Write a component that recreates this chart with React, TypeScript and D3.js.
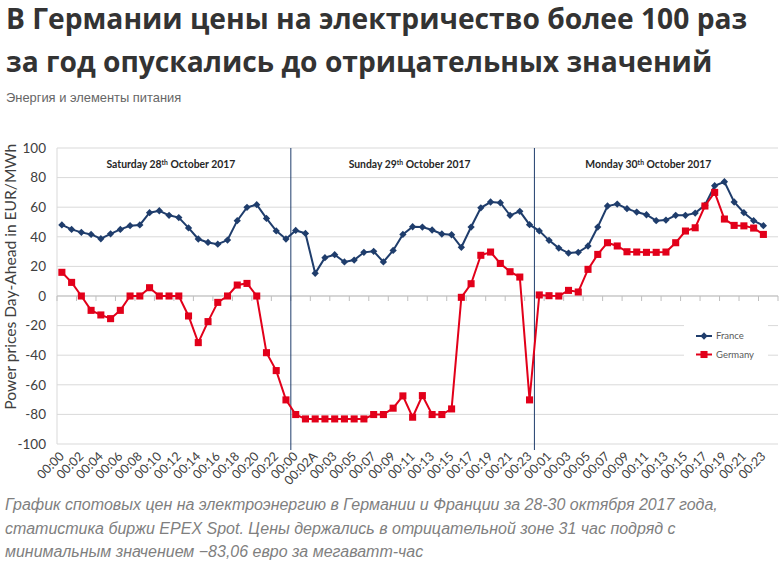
import React from 'react';
import * as d3 from 'd3';

// hourly slots, Sat 28 – Mon 30 Oct 2017 (Sunday has the extra DST hour)
const categories = [
  '00:00', '00:01', '00:02', '00:03', '00:04', '00:05', '00:06', '00:07', '00:08', '00:09', '00:10', '00:11',
  '00:12', '00:13', '00:14', '00:15', '00:16', '00:17', '00:18', '00:19', '00:20', '00:21', '00:22', '00:23',
  '00:00', '00:01', '00:02A', '00:02B', '00:03', '00:04', '00:05', '00:06', '00:07', '00:08', '00:09', '00:10',
  '00:11', '00:12', '00:13', '00:14', '00:15', '00:16', '00:17', '00:18', '00:19', '00:20', '00:21', '00:22', '00:23',
  '00:00', '00:01', '00:02', '00:03', '00:04', '00:05', '00:06', '00:07', '00:08', '00:09', '00:10', '00:11',
  '00:12', '00:13', '00:14', '00:15', '00:16', '00:17', '00:18', '00:19', '00:20', '00:21', '00:22', '00:23',
];

const france = [
  48, 45, 43, 41.6, 38.7, 42, 45, 47.5, 48, 56.3, 57.6, 54.5, 53, 46, 38.5, 36.2, 35, 37.8, 50.9, 59.9, 61.7, 52.4, 44, 38.5,
  44.3, 42.3, 15.3, 25.9, 27.9, 23, 24.3, 29.5, 30.2, 23, 30.8, 41.6, 46.8, 46.6, 44.6, 41.9, 41.4, 32.9, 46.6, 59.6, 63.5, 63, 54.5, 57.2, 48.2,
  44, 37.6, 32.4, 29, 29.5, 33.8, 46.6, 60.8, 62.1, 59, 56.7, 54.9, 50.9, 51.3, 54.5, 54.5, 56, 61.4, 74.5, 77.2, 63.5, 56.3, 50.9, 47.5,
];

const germany = [
  16, 9.2, 0, -9.7, -12.8, -15.3, -9.7, 0, 0, 5.6, 0, 0, 0, -13.5, -31.5, -17.3, -4.3, 0, 7.4, 8.5, 0, -38.3, -50.4, -70.2,
  -80.1, -83.06, -83.06, -83.06, -83.06, -83.06, -83.06, -83.06, -80.1, -80.1, -75.8, -67.5, -81.9, -67.3, -80.1, -80.1, -76.3,
  -0.9, 8.3, 27.5, 29.7, 22, 16.4, 12.8, -70.2,
  0.7, 0.2, 0, 3.8, 2.7, 18, 28.1, 36, 33.8, 29.9, 29.7, 29.5, 29.5, 29.7, 36, 43.9, 46.1, 60.8, 70, 52, 47.7, 47.4, 45.9, 41.6,
];

const yTicks = [100, 80, 60, 40, 20, 0, -20, -40, -60, -80, -100];

// first slot of each day
const days = [
  { start: 0, day: 'Saturday', num: '28' },
  { start: 24, day: 'Sunday', num: '29' },
  { start: 49, day: 'Monday', num: '30' },
];

const series = [
  { name: 'France', values: france, color: '#1F3D6C', marker: 'diamond' },
  { name: 'Germany', values: germany, color: '#E2001A', marker: 'square' },
];

const titleLines = [
  'В Германии цены на электричество более 100 раз',
  'за год опускались до отрицательных значений',
];
const subtitle = 'Энергия и элементы питания';
const captionLines = [
  'График спотовых цен на электроэнергию в Германии и Франции за 28-30 октября 2017 года,',
  'статистика биржи EPEX Spot. Цены держались в отрицательной зоне 31 час подряд с',
  'минимальным значением −83,06 евро за мегаватт-час',
];

const W = 781;
const H = 568;
const plot = { left: 57, right: 778, top: 148, bottom: 444 };
const chartFont = 'Lato, "Liberation Sans", sans-serif';

export default function App() {
  // one empty slot at the end, like the Excel original
  const x = d3.scaleBand<number>()
    .domain(d3.range(categories.length + 1))
    .range([plot.left, plot.right]);
  const step = x.step();
  const cx = (i: number) => (x(i) as number) + step / 2;
  const y = d3.scaleLinear().domain([-100, 100]).range([plot.bottom, plot.top]);

  const line = d3.line<number>().x((_, i) => cx(i)).y(d => y(d));
  const diamond = d3.symbol().type(d3.symbolDiamond2).size(34)();
  const square = d3.symbol().type(d3.symbolSquare).size(50)();

  const tickBounds = d3.range(0, categories.length + 2, 2);

  return (
    <svg width={W} height={H} style={{ position: 'absolute', left: 0, top: 0, background: '#fff' }}>
      {/* headline */}
      {titleLines.map((t, i) => (
        <text key={i} x={6} y={28.5 + i * 43.5} fontFamily='"Open Sans", sans-serif' fontWeight={700}
          fontSize={28.2} fill="#333">{t}</text>
      ))}
      <text x={6} y={102} fontFamily='"Liberation Sans", Arial, sans-serif' fontSize={12.9} fill="#666">{subtitle}</text>

      {/* grid */}
      {yTicks.map(t => (
        <line key={t} x1={plot.left} x2={plot.right} y1={y(t)} y2={y(t)} stroke="#D9D9D9" strokeWidth={1} />
      ))}
      <line x1={plot.left} x2={plot.left} y1={plot.top} y2={plot.bottom} stroke="#D9D9D9" />
      <line x1={plot.left} x2={plot.right} y1={y(0)} y2={y(0)} stroke="#BFBFBF" />
      {tickBounds.map(k => {
        const px = plot.left + k * step;
        return <line key={k} x1={px} x2={px} y1={y(0)} y2={y(0) + 5} stroke="#BFBFBF" />;
      })}

      {/* y axis */}
      {yTicks.map(t => (
        <text key={t} x={46} y={y(t)} dy="0.35em" textAnchor="end" fontFamily={chartFont}
          fontSize={13.5} fill="#404040">{t}</text>
      ))}
      <text transform={`translate(16,${y(13)}) rotate(-90)`} textAnchor="middle" fontFamily={chartFont}
        fontSize={15.6} fill="#404040">Power prices Day-Ahead in EUR/MWh</text>

      {/* day separators and headers */}
      {days.slice(1).map(d => (
        <line key={d.day} x1={x(d.start)} x2={x(d.start)} y1={plot.top} y2={plot.bottom + 6}
          stroke="#1F3D6C" strokeWidth={1} />
      ))}
      {days.map((d, i) => {
        const end = i < days.length - 1 ? days[i + 1].start : categories.length;
        const mid = (cx(d.start) + cx(end - 1)) / 2;
        return (
          <text key={d.day} x={mid - 3} y={168} textAnchor="middle" fontFamily={chartFont} fontWeight={700}
            fontSize={10.4} fill="#262626">
            {d.day} {d.num}<tspan fontSize={6.8} dy={-3.5}>th</tspan><tspan dy={3.5}> October 2017</tspan>
          </text>
        );
      })}

      {/* x labels */}
      {categories.map((c, i) => i % 2 === 0 ? (
        <text key={i} transform={`translate(${cx(i) + 3},${plot.bottom + 13}) rotate(-45)`} textAnchor="end"
          fontFamily={chartFont} fontSize={12.5} fill="#404040">{c}</text>
      ) : null)}

      {/* series */}
      {series.map(s => (
        <g key={s.name}>
          <path d={line(s.values) ?? ''} fill="none" stroke={s.color} strokeWidth={2} />
          {s.values.map((v, i) => (
            <path key={i} d={s.marker === 'diamond' ? diamond : square} transform={`translate(${cx(i)},${y(v)})`}
              fill={s.color} />
          ))}
        </g>
      ))}

      {/* legend */}
      <rect x={684} y={325} width={84} height={40} fill="#fff" />
      {series.map((s, i) => {
        const ly = 336 + i * 18.5;
        return (
          <g key={s.name} transform={`translate(696,${ly})`}>
            <line x1={0} x2={16} y1={0} y2={0} stroke={s.color} strokeWidth={2} />
            <path d={s.marker === 'diamond' ? diamond : square} transform="translate(8,0)" fill={s.color} />
            <text x={20} dy="0.35em" fontFamily={chartFont} fontSize={9.5} fill="#595959">{s.name}</text>
          </g>
        );
      })}

      {/* caption */}
      {captionLines.map((t, i) => (
        <text key={i} x={5} y={510 + i * 23.5} fontFamily='"Liberation Sans", Arial, sans-serif' fontStyle="italic"
          fontSize={16} fill="#7F7F7F">{t}</text>
      ))}
    </svg>
  );
}
